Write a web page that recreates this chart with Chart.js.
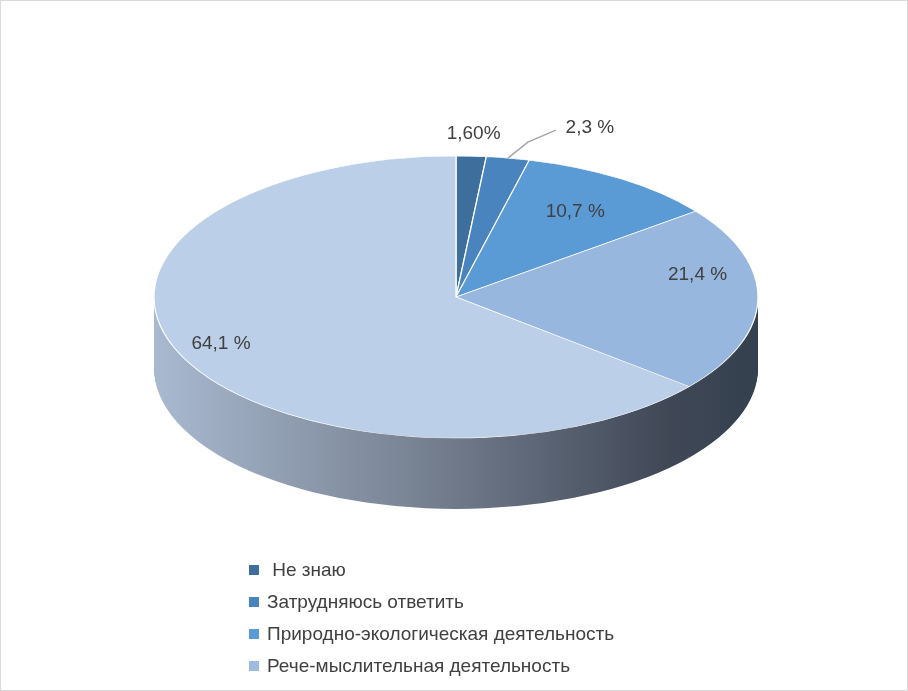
<!DOCTYPE html>
<html><head><meta charset="utf-8">
<script src="https://cdn.jsdelivr.net/npm/chart.js@4"></script>
<style>
body{margin:0;background:#fff;}
#wrap{position:relative;width:906px;height:689px;border:1px solid #d9d9d9;}
canvas{position:absolute;left:0;top:0;}
#legend{position:absolute;left:248px;top:553px;font-family:"Liberation Sans",sans-serif;font-size:19px;color:#404040;}
#legend div{height:32px;line-height:32px;}
#legend span{display:inline-block;width:10px;height:10px;margin-right:8px;vertical-align:1px;}
</style></head><body>
<div id="wrap"><canvas id="c" width="906" height="689"></canvas><div id="legend"></div></div>
<script>
// данные
const labels = [' Не знаю', 'Затрудняюсь ответить', 'Природно-экологическая деятельность', 'Рече-мыслительная деятельность', ''];
const values = [1.6, 2.3, 10.7, 21.4, 64.1];
const valueText = ['1,60%', '2,3 %', '10,7 %', '21,4 %', '64,1 %'];
const colors = ['#3E6E9C', '#4A84BE', '#5B9BD5', '#97B7DE', '#BBCFE8'];
const legendColors = ['#3E6E9C', '#4A84BE', '#5B9BD5', '#9DBDE0'];

// геометрия "3D" эллипса
const CX = 455, CY = 296, RX = 302, RY = 141, DEPTH = 71;

const leg = document.getElementById('legend');
legendColors.forEach((c, i) => {
    leg.innerHTML += '<div><span style="background:' + c + '"></span>' + labels[i] + '</div>';
});

function place(ctx, arc, dy) {
    const R = arc.outerRadius;
    ctx.translate(CX, CY + dy);
    ctx.scale(RX / R, RY / R);
    ctx.translate(-arc.x, -arc.y);
}

const pie3d = {
    id: 'pie3d',
    beforeDatasetsDraw(chart) {
        const ctx = chart.ctx;
        const arcs = chart.getDatasetMeta(0).data;
        const a0 = arcs[0];
        const g = ctx.createLinearGradient(a0.x - a0.outerRadius, 0, a0.x + a0.outerRadius, 0);
        g.addColorStop(0, '#A9B9D0');
        g.addColorStop(0.4, '#7C8798');
        g.addColorStop(0.85, '#404856');
        g.addColorStop(1, '#34404E');
        // боковая стенка
        for (let d = DEPTH; d > 0; d--) {
            arcs.forEach(arc => {
                const o = arc.options, bg = o.backgroundColor, bw = o.borderWidth;
                o.backgroundColor = g; o.borderWidth = 0;
                ctx.save(); place(ctx, arc, d); arc.draw(ctx); ctx.restore();
                o.backgroundColor = bg; o.borderWidth = bw;
            });
        }
        // верх
        arcs.forEach(arc => {
            ctx.save(); place(ctx, arc, 0); arc.draw(ctx); ctx.restore();
        });
        // подписи
        const f = [1.16, 1.18, 0.72, 0.8, 0.78];
        ctx.font = '19px "Liberation Sans", sans-serif';
        ctx.fillStyle = '#404040';
        ctx.textAlign = 'center';
        ctx.textBaseline = 'middle';
        arcs.forEach((arc, i) => {
            const m = (arc.startAngle + arc.endAngle) / 2;
            let x = CX + Math.cos(m) * RX * f[i];
            let y = CY + Math.sin(m) * RY * f[i];
            if (i === 1) {
                const ex = CX + Math.cos(m) * RX, ey = CY + Math.sin(m) * RY;
                ctx.strokeStyle = '#A6A6A6'; ctx.lineWidth = 1.5;
                ctx.beginPath(); ctx.moveTo(ex, ey); ctx.lineTo(ex + 20, ey - 16); ctx.lineTo(ex + 48, ey - 28); ctx.stroke();
                x = ex + 82; y = ey - 30;
            }
            if (i === 3) y -= 24;
            if (i === 4) x -= 22;
            ctx.fillText(valueText[i], x, y);
        });
        return false;
    }
};

new Chart(document.getElementById('c'), {
    type: 'pie',
    data: {
        labels: labels,
        datasets: [{ data: values, backgroundColor: colors, borderColor: '#ffffff', borderWidth: 1.5 }]
    },
    options: {
        responsive: false,
        animation: false,
        plugins: { legend: { display: false }, tooltip: { enabled: false } }
    },
    plugins: [pie3d]
});
</script>
</body></html>
